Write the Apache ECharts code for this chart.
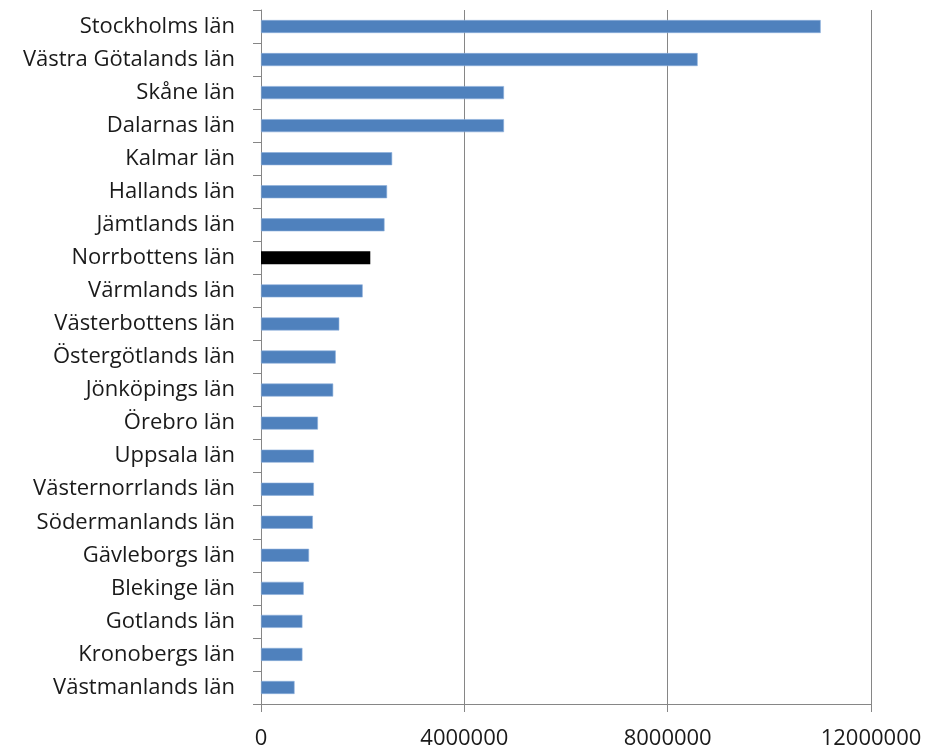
<!DOCTYPE html>
<html><head><meta charset="utf-8">
<script src="https://cdn.jsdelivr.net/npm/echarts@6/dist/echarts.min.js"></script>
<style>html,body{margin:0;padding:0;background:#fff}#c{width:930px;height:751px}</style>
</head><body><div id="c"></div>
<script>
const categories = ["Stockholms län","Västra Götalands län","Skåne län","Dalarnas län","Kalmar län","Hallands län","Jämtlands län","Norrbottens län","Värmlands län","Västerbottens län","Östergötlands län","Jönköpings län","Örebro län","Uppsala län","Västernorrlands län","Södermanlands län","Gävleborgs län","Blekinge län","Gotlands län","Kronobergs län","Västmanlands län"];
const values = [11010000,8590000,4780000,4780000,2580000,2480000,2430000,2150000,2000000,1540000,1470000,1420000,1120000,1040000,1040000,1020000,945000,840000,815000,815000,660000];
const highlight = "Norrbottens län";
const xTicks = [0,4000000,8000000,12000000];

const chart = echarts.init(document.getElementById('c'));
chart.setOption({
  animation:false,
  grid:{left:261,right:59,top:10,bottom:47,containLabel:false},
  xAxis:{type:'value',min:0,max:12000000,interval:4000000,
    axisLine:{show:true,lineStyle:{color:'#868686',width:1}},
    axisTick:{show:true,length:8,lineStyle:{color:'#868686'}},
    splitLine:{show:true,lineStyle:{color:'#868686',width:1}},
    axisLabel:{color:'#1a1a1a',fontSize:22,fontFamily:'Open Sans',margin:24,
      formatter:v=>xTicks.includes(v)?String(v):''}},
  yAxis:{type:'category',data:categories,inverse:true,
    axisLine:{show:true,lineStyle:{color:'#868686',width:1}},
    axisTick:{show:true,length:8,alignWithLabel:false,lineStyle:{color:'#868686'}},
    axisLabel:{color:'#1a1a1a',fontSize:22,fontFamily:'Open Sans',margin:26,padding:[2,0,0,0]}},
  series:[{type:'bar',barWidth:13,
    data:values.map((v,i)=>({value:v,itemStyle:{color:categories[i]===highlight?'#000000':'#4F81BD',
      borderColor:categories[i]===highlight?'#000000':'#8CAEDB',borderWidth:categories[i]===highlight?0:0.6}}))}]
});
</script></body></html>
